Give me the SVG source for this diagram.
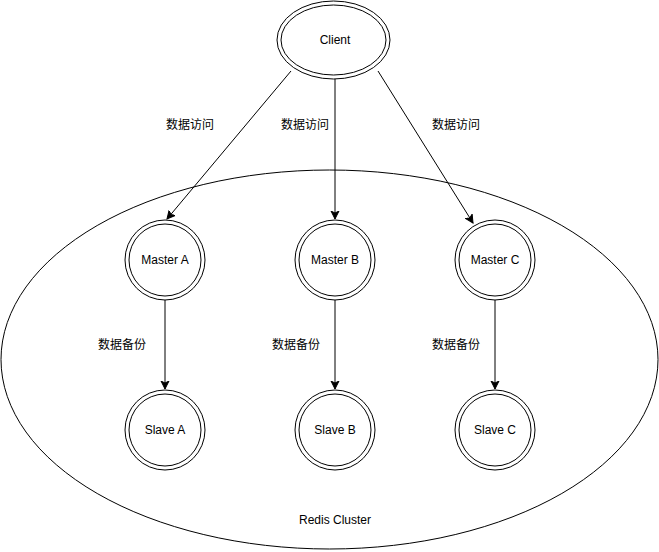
<svg xmlns="http://www.w3.org/2000/svg" width="659" height="552" viewBox="0 0 659 552">
<style>
.s{fill:#fff;stroke:#000;stroke-width:1}
.t{font-family:"Liberation Sans","Noto Sans CJK SC",sans-serif;font-size:12px;fill:#000;text-anchor:middle}
.c{stroke:#000;stroke-width:1;fill:none;marker-end:url(#a)}
</style>
<defs>
<marker id="a" markerWidth="10" markerHeight="10" refX="8" refY="5" orient="auto" markerUnits="userSpaceOnUse">
<path d="M0,1 L8,5 L0,9 L2,5 Z" fill="#000" stroke="#000" stroke-width="1"/>
</marker>
</defs>
<g id="cluster">
<ellipse class="s" cx="329.5" cy="359.5" rx="328.5" ry="189.5"/>
<text class="t" x="335" y="524">Redis Cluster</text>
</g>
<g id="client">
<ellipse class="s" cx="333.5" cy="40" rx="56.5" ry="39"/>
<ellipse class="s" cx="333.5" cy="40" rx="52.5" ry="35"/>
<text class="t" x="335" y="44">Client</text>
</g>
<g id="connectors">
<path class="c" d="M291,71 L167,219"/>
<path class="c" d="M335,79 L335,219"/>
<path class="c" d="M378,71 L473,223"/>
<path class="c" d="M165,300 L165,389"/>
<path class="c" d="M335,300 L335,389"/>
<path class="c" d="M495,300 L495,389"/>
</g>
<g id="labels">
<text class="t" x="190" y="129">数据访问</text>
<text class="t" x="305" y="129">数据访问</text>
<text class="t" x="456" y="129">数据访问</text>
<text class="t" x="122" y="349">数据备份</text>
<text class="t" x="296" y="349">数据备份</text>
<text class="t" x="456" y="349">数据备份</text>
</g>
<g id="masterA">
<circle class="s" cx="165" cy="260" r="40"/>
<circle class="s" cx="165" cy="260" r="36"/>
<text class="t" x="165" y="264">Master A</text>
</g>
<g id="masterB">
<circle class="s" cx="335" cy="260" r="40"/>
<circle class="s" cx="335" cy="260" r="36"/>
<text class="t" x="335" y="264">Master B</text>
</g>
<g id="masterC">
<circle class="s" cx="495" cy="260" r="40"/>
<circle class="s" cx="495" cy="260" r="36"/>
<text class="t" x="495" y="264">Master C</text>
</g>
<g id="slaveA">
<circle class="s" cx="165" cy="430" r="40"/>
<circle class="s" cx="165" cy="430" r="36"/>
<text class="t" x="165" y="434">Slave A</text>
</g>
<g id="slaveB">
<circle class="s" cx="335" cy="430" r="40"/>
<circle class="s" cx="335" cy="430" r="36"/>
<text class="t" x="335" y="434">Slave B</text>
</g>
<g id="slaveC">
<circle class="s" cx="495" cy="430" r="40"/>
<circle class="s" cx="495" cy="430" r="36"/>
<text class="t" x="495" y="434">Slave C</text>
</g>
</svg>
